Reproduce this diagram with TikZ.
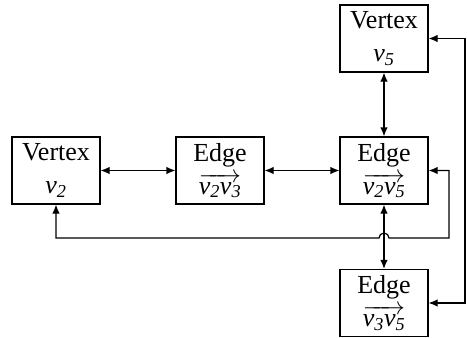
\documentclass[tikz,border=0pt]{standalone}
\usepackage{amsmath}
\usepackage{fontspec}
\setmainfont{Liberation Serif}
\usetikzlibrary{arrows.meta}
\newcommand{\vi}[1]{\textit{v}_{\textit{#1}}}
\begin{document}
\begin{tikzpicture}[x=1pt,y=-1pt,
 box/.style={draw,line width=1.2pt,minimum width=88pt,minimum height=67pt,inner sep=0pt,align=center,font=\fontsize{26}{33}\selectfont},
 conn/.style={line width=1.2pt,{Latex[length=9pt,width=7.5pt]}-{Latex[length=9pt,width=7.5pt]}}]
\useasboundingbox (0,0) rectangle (467,338);
\node[box] (v5) at (384,38.5) {Vertex\\$\vi{5}$};
\node[box] (v2) at (56,170.5) {Vertex\\$\vi{2}$};
\node[box] (e23) at (220,170.5) {Edge\\$\overrightarrow{\vi{2}\vi{3}}$};
\node[box] (e25) at (384,170.5) {Edge\\$\overrightarrow{\vi{2}\vi{5}}$};
\node[box] (e35) at (384,303) {Edge\\$\overrightarrow{\vi{3}\vi{5}}$};
\draw[conn] (v2) -- (e23);
\draw[conn] (e23) -- (e25);
\draw[conn] (v5) -- (e25);
\draw[conn] (e25) -- (e35);
\coordinate (r1) at (465,38.5);
\coordinate (r2) at (465,303);
\draw[conn] (v5.east) -- (r1) -- (r2) -- (e35.east);
\coordinate (hop) at (379,238);
\coordinate (l2) at (449,238);
\draw[conn] (v2.south) |- (hop) arc[start angle=180,end angle=0,radius=5pt] -- (l2) |- (e25.east);
\end{tikzpicture}
\end{document}
